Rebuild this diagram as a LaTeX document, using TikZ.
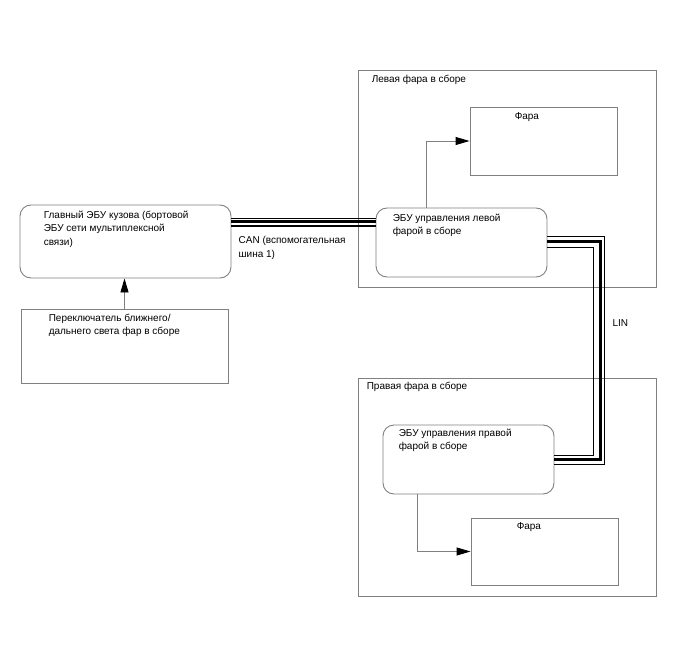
\documentclass[tikz,border=0pt]{standalone}
\usepackage{fontspec}
\setmainfont{Liberation Sans}
\usetikzlibrary{calc, positioning, arrows.meta}

\tikzset{
    box/.style={draw=gray, line width=0.9pt, inner sep=0pt},
    ecu/.style={box, rounded corners=11pt},
    txt/.style={inner sep=0pt, anchor=north west, align=left, font=\fontsize{10}{13.5}\selectfont},
    arr/.style={draw=gray, line width=0.9pt, -{Triangle[length=14pt, width=8pt, color=black]}},
    busthin/.style={line width=1pt},
    busthick/.style={line width=3.4pt},
}

\begin{document}
\begin{tikzpicture}[x=1pt, y=-1pt]
    \useasboundingbox (0,0) rectangle (688,658);

    % Outer assemblies
    \node[box, minimum width=298pt, minimum height=217pt] (assyL) at (507,178.5) {};
    \node[box, minimum width=298pt, minimum height=218pt] (assyR) at (507,487) {};
    \node[txt] (assyLtxt) at ([shift={(14,5)}]assyL.north west) {Левая фара в сборе};
    \node[txt] (assyRtxt) at ([shift={(9,4)}]assyR.north west) {Правая фара в сборе};

    % Main ECU and switch
    \node[ecu, minimum width=211pt, minimum height=73pt] (main) at (125.5,241.5) {};
    \node[txt] (maintxt) at ([shift={(24,6)}]main.north west)
        {Главный ЭБУ кузова (бортовой\\ЭБУ сети мультиплексной\\связи)};
    \node[box, minimum width=207pt, minimum height=74pt] (switch) at (124.5,346) {};
    \node[txt] (switchtxt) at ([shift={(28,5)}]switch.north west)
        {Переключатель ближнего/\\дальнего света фар в сборе};

    % Headlamp ECUs
    \node[ecu, minimum width=171pt, minimum height=69pt] (ecuL) at (461.5,242.5) {};
    \node[txt] (ecuLtxt) at ([shift={(17,6)}]ecuL.north west)
        {ЭБУ управления левой\\фарой в сборе};
    \node[ecu, minimum width=171pt, minimum height=69pt] (ecuR) at (468.5,459.5) {};
    \node[txt] (ecuRtxt) at ([shift={(16,4)}]ecuR.north west)
        {ЭБУ управления правой\\фарой в сборе};

    % Headlamps
    \node[box, minimum width=147pt, minimum height=68pt] (faraL) at (543.5,141) {};
    \node[txt] (faraLtxt) at ([shift={(45,6)}]faraL.north west) {Фара};
    \node[box, minimum width=147pt, minimum height=67pt] (faraR) at (544.5,551.5) {};
    \node[txt] (faraRtxt) at ([shift={(46,5)}]faraR.north west) {Фара};

    % Arrows
    \draw[arr] (switch.north) -- (switch.north |- main.south);
    \draw[arr] ([xshift=-35.5pt]ecuL.north) |- (faraL.west);
    \draw[arr] ([xshift=-51.5pt]ecuR.south) |- (faraR.west);

    % CAN bus
    \draw[busthin] ([yshift=23.5pt]main.east) -- ([yshift=23.5pt]main.east -| ecuL.west);
    \draw[busthick] ([yshift=20pt]main.east) -- ([yshift=20pt]main.east -| ecuL.west);
    \draw[line width=1.6pt] ([yshift=15.3pt]main.east) -- ([yshift=15.3pt]main.east -| ecuL.west);
    \node[txt] (cantxt) at ([shift={(7,-5)}]main.east) {CAN (вспомогательная\\шина 1)};

    % LIN bus
    \draw[busthin] ([yshift=6.5pt]ecuL.east) -- ++(57,0) |- ([yshift=-4.5pt]ecuR.east);
    \draw[busthick] ([yshift=1pt]ecuL.east) -- ++(53,0) |- (ecuR.east);
    \draw[busthin] ([yshift=-4.5pt]ecuL.east) -- ++(46,0) |- ([yshift=4.5pt]ecuR.east);
    \coordinate (lincorner) at ([yshift=6.5pt]ecuL.east);
    \node[txt, anchor=west] (lintxt) at ([shift={(65,87)}]lincorner) {LIN};
\end{tikzpicture}
\end{document}
